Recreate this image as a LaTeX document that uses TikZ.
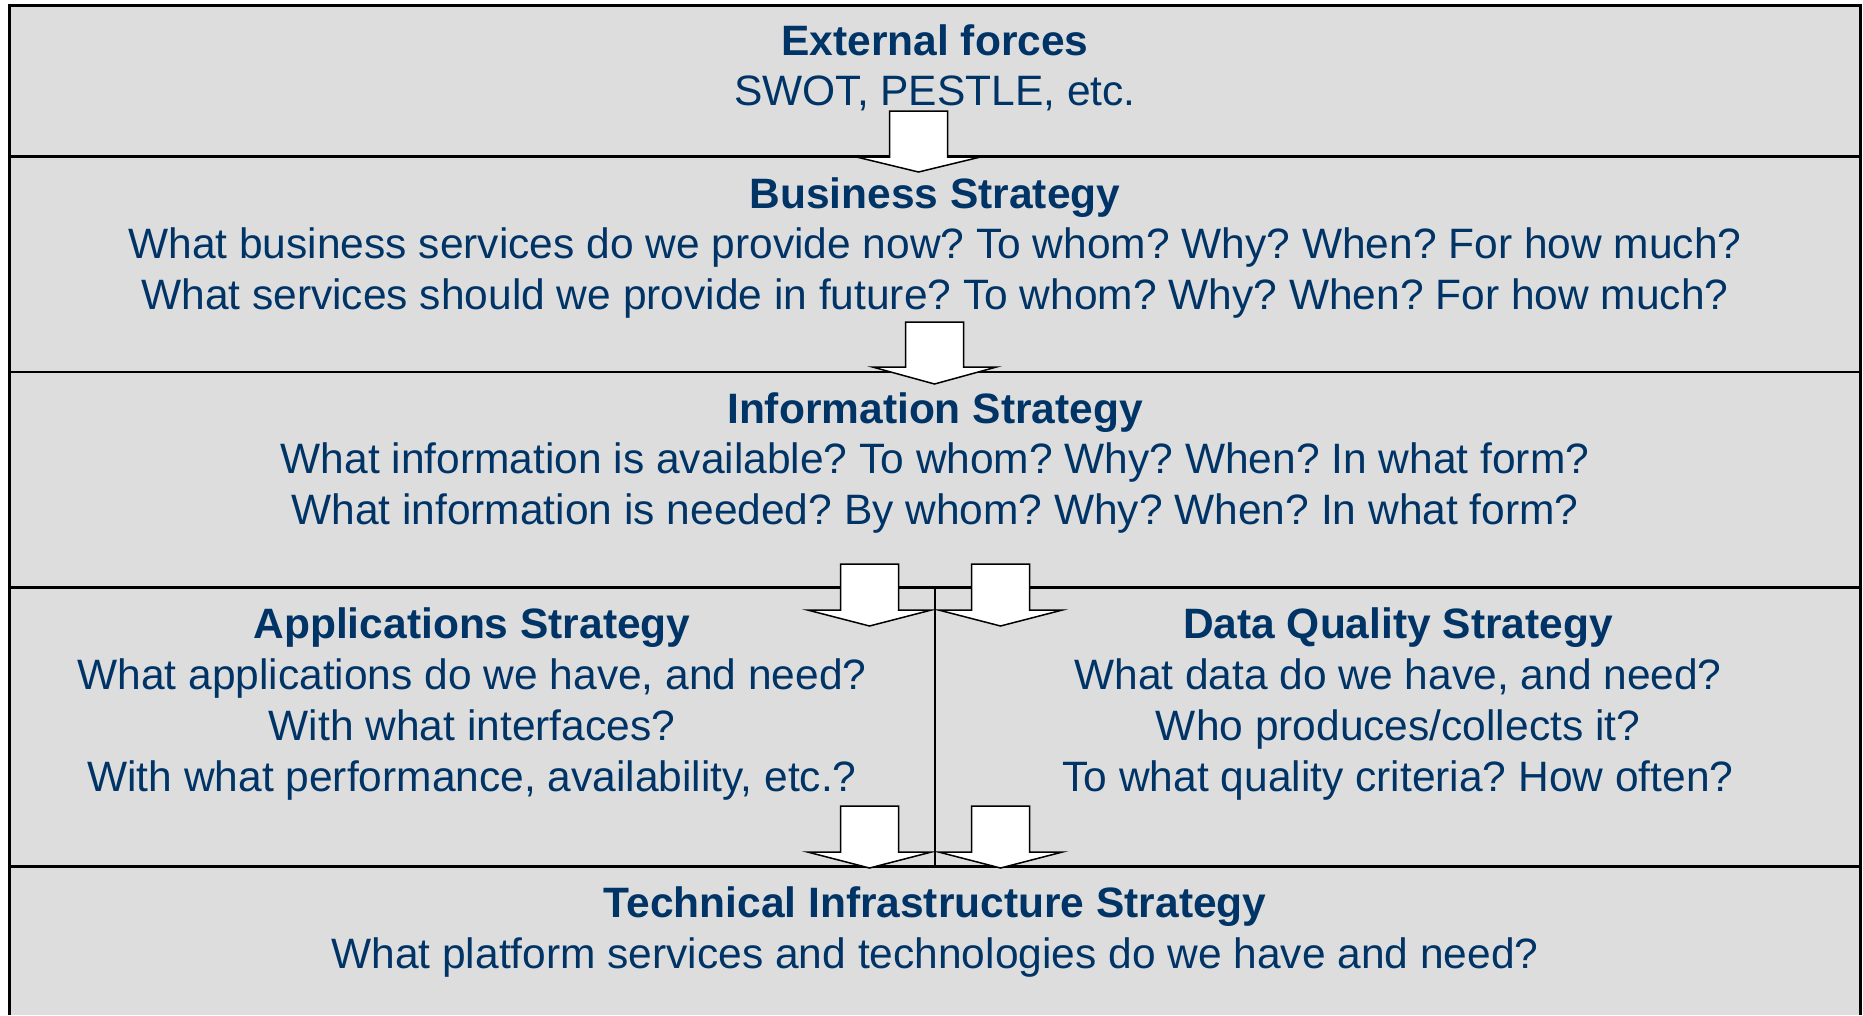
\documentclass[tikz,border=0pt]{standalone}
\usepackage{fontspec}
\setmainfont{Liberation Sans}
\frenchspacing
\definecolor{txtblue}{RGB}{0,51,102}
\definecolor{panelgray}{RGB}{221,221,221}
\tikzset{
  panel/.style={fill=panelgray},
  rule/.style={draw=black,line width=2.5pt},
  blockarrow/.style={fill=white,draw=black,line width=1.5pt,line join=miter},
  txt/.style={text=txtblue,align=center,anchor=base,inner sep=0pt,
    font=\fontsize{42.5}{51}\selectfont},
  ttl/.style={txt,font=\fontsize{42.5}{51}\selectfont\bfseries},
}
% block arrow: centre x, shaft top y, head base y, tip y, name
\newcommand{\blkarrow}[5]{%
  \path[blockarrow] (#1-29,#2) -- (#1+29,#2) -- (#1+29,#3) -- (#1+62,#3)
    -- (#1,#4) -- (#1-62,#3) -- (#1-29,#3) -- cycle;
  \coordinate (#5) at (#1,#4);}
\begin{document}
\begin{tikzpicture}[x=1pt,y=-1pt]
\frenchspacing
\useasboundingbox (0,0) rectangle (1863,1015);
\fill[white] (0,0) rectangle (1863,1015);
\fill[panel] (9.5,5.5) rectangle (1860.5,1015);
\draw[rule] (9.5,1015) -- (9.5,5.5) -- (1860.5,5.5) -- (1860.5,1015);
% horizontal dividers
\draw[rule] (9.5,156.5) coordinate (d1l) -- (1860.5,156.5) coordinate (d1r);
\draw[rule] (9.5,372) coordinate (d2l) -- (1860.5,372) coordinate (d2r);
\draw[rule] (9.5,587.5) coordinate (d3l) -- (1860.5,587.5) coordinate (d3r);
\draw[rule] (9.5,866.5) coordinate (d4l) -- (1860.5,866.5) coordinate (d4r);
% vertical divider
\coordinate (vtop) at (935,587.5);
\coordinate (vbot) at (935,866.5);
\draw[black,line width=2pt] (vtop) -- (vbot);
% arrows
\blkarrow{918.5}{111}{157}{172}{a1}
\blkarrow{934.5}{322}{367}{384}{a2}
\blkarrow{869.5}{564}{610}{626}{a3}
\blkarrow{1000.5}{564}{610}{626}{a4}
\blkarrow{869.5}{806}{852}{868}{a5}
\blkarrow{1000.5}{806}{852}{868}{a6}
% texts (anchor base = baseline of the last line)
\node[ttl] (ext) at (935,55) {External forces};
\node[txt] (exts) at (935,105) {SWOT, PESTLE, etc.};
\node[ttl] (bus) at (935,208) {Business Strategy};
\node[txt] (buss) at (935,309) {What business services do we provide now? To whom? Why? When? For how much?\\What services should we provide in future? To whom? Why? When? For how much?};
\node[ttl] (inf) at (935,423) {Information Strategy};
\node[txt] (infs) at (935,524) {What information is available? To whom? Why? When? In what form?\\What information is needed? By whom? Why? When? In what form?};
\node[ttl] (app) at (472,638) {Applications Strategy};
\node[txt] (apps) at (472,791) {What applications do we have, and need?\\With what interfaces?\\With what performance, availability, etc.?};
\node[ttl] (dq) at (1398,638) {Data Quality Strategy};
\node[txt] (dqs) at (1398,791) {What data do we have, and need?\\Who produces/collects it?\\To what quality criteria? How often?};
\node[ttl] (tech) at (935,917) {Technical Infrastructure Strategy};
\node[txt] (techs) at (935,968) {What platform services and technologies do we have and need?};
\end{tikzpicture}
\end{document}
